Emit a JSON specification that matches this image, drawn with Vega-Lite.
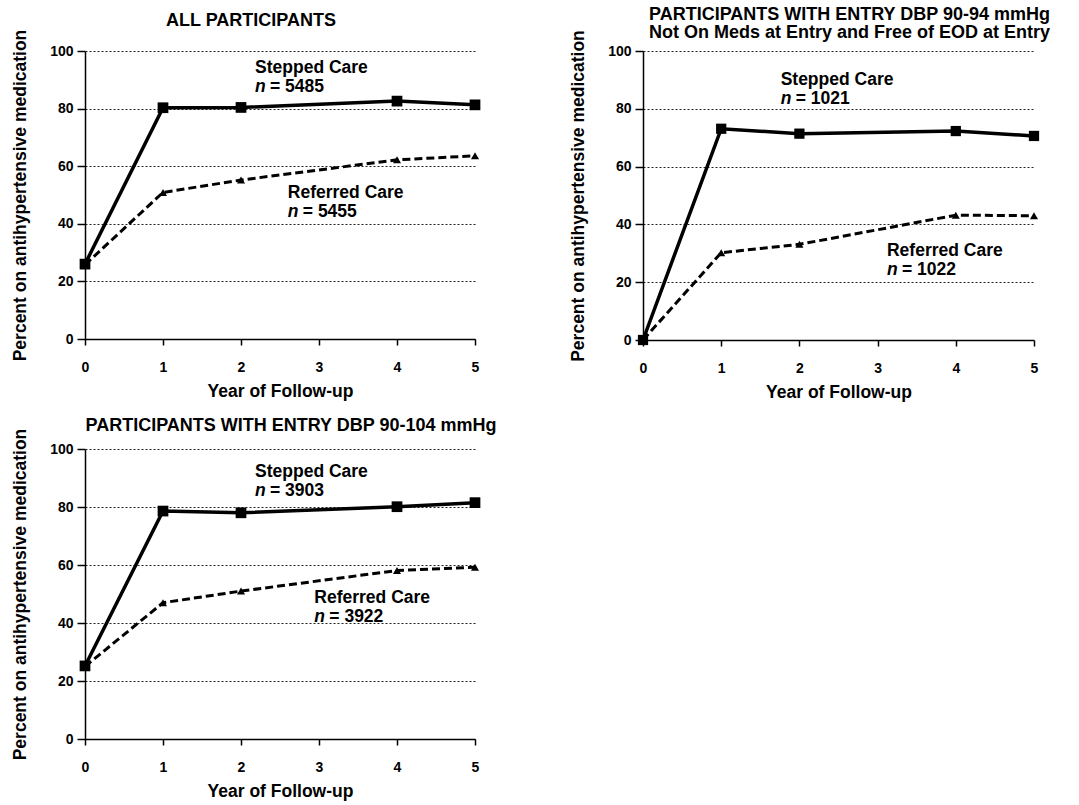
{
  "$schema": "https://vega.github.io/schema/vega-lite/v6.json",
  "background": "white",
  "padding": {"left": 11, "top": 5, "right": 5, "bottom": 5},
  "datasets": {
    "hdfp": [
      {"panel": "all", "group": "Stepped Care", "year": 0, "pct": 26.0},
      {"panel": "all", "group": "Stepped Care", "year": 1, "pct": 80.3},
      {"panel": "all", "group": "Stepped Care", "year": 2, "pct": 80.4},
      {"panel": "all", "group": "Stepped Care", "year": 4, "pct": 82.6},
      {"panel": "all", "group": "Stepped Care", "year": 5, "pct": 81.3},
      {"panel": "all", "group": "Referred Care", "year": 0, "pct": 25.8},
      {"panel": "all", "group": "Referred Care", "year": 1, "pct": 50.9},
      {"panel": "all", "group": "Referred Care", "year": 2, "pct": 55.2},
      {"panel": "all", "group": "Referred Care", "year": 4, "pct": 62.2},
      {"panel": "all", "group": "Referred Care", "year": 5, "pct": 63.6},
      {"panel": "dbp9094", "group": "Stepped Care", "year": 0, "pct": 0.0},
      {"panel": "dbp9094", "group": "Stepped Care", "year": 1, "pct": 73.1},
      {"panel": "dbp9094", "group": "Stepped Care", "year": 2, "pct": 71.4},
      {"panel": "dbp9094", "group": "Stepped Care", "year": 4, "pct": 72.3},
      {"panel": "dbp9094", "group": "Stepped Care", "year": 5, "pct": 70.6},
      {"panel": "dbp9094", "group": "Referred Care", "year": 0, "pct": 0.0},
      {"panel": "dbp9094", "group": "Referred Care", "year": 1, "pct": 30.2},
      {"panel": "dbp9094", "group": "Referred Care", "year": 2, "pct": 33.1},
      {"panel": "dbp9094", "group": "Referred Care", "year": 4, "pct": 43.2},
      {"panel": "dbp9094", "group": "Referred Care", "year": 5, "pct": 43.0},
      {"panel": "dbp90104", "group": "Stepped Care", "year": 0, "pct": 25.2},
      {"panel": "dbp90104", "group": "Stepped Care", "year": 1, "pct": 78.6},
      {"panel": "dbp90104", "group": "Stepped Care", "year": 2, "pct": 78.0},
      {"panel": "dbp90104", "group": "Stepped Care", "year": 4, "pct": 80.1},
      {"panel": "dbp90104", "group": "Stepped Care", "year": 5, "pct": 81.5},
      {"panel": "dbp90104", "group": "Referred Care", "year": 0, "pct": 25.0},
      {"panel": "dbp90104", "group": "Referred Care", "year": 1, "pct": 47.0},
      {"panel": "dbp90104", "group": "Referred Care", "year": 2, "pct": 51.0},
      {"panel": "dbp90104", "group": "Referred Care", "year": 4, "pct": 58.1},
      {"panel": "dbp90104", "group": "Referred Care", "year": 5, "pct": 59.2}
    ],
    "notes": [
      {"panel": "all", "group": "Stepped Care", "nText": "= 5485"},
      {"panel": "all", "group": "Referred Care", "nText": "= 5455"},
      {"panel": "dbp9094", "group": "Stepped Care", "nText": "= 1021"},
      {"panel": "dbp9094", "group": "Referred Care", "nText": "= 1022"},
      {"panel": "dbp90104", "group": "Stepped Care", "nText": "= 3903"},
      {"panel": "dbp90104", "group": "Referred Care", "nText": "= 3922"}
    ]
  },
  "columns": 2,
  "bounds": "flush",
  "spacing": {"column": 168, "row": 109},
  "concat": [
    {
      "title": {"text": "ALL PARTICIPANTS", "dx": -29, "offset": -1},
      "width": 390,
      "height": 288,
      "layer": [
        {"data": {"name": "hdfp"}, "transform": [{"filter": "datum.panel === 'all' && datum.group === 'Referred Care'"}],
         "mark": {"type": "line", "color": "black", "strokeWidth": 3, "strokeDash": [8, 4]},
         "encoding": {
           "x": {"field": "year", "type": "quantitative", "scale": {"domain": [0, 5], "nice": false}, "axis": {"title": "Year of Follow-up", "values": [0, 1, 2, 3, 4, 5], "format": "d", "labelFontSize": 14, "labelFontWeight": "bold"}},
           "y": {"field": "pct", "type": "quantitative", "scale": {"domain": [0, 100], "nice": false}, "axis": {"title": "Percent on antihypertensive medication", "values": [0, 20, 40, 60, 80, 100], "format": "d", "labelFontSize": 14, "labelFontWeight": "bold"}}
         }},
        {"data": {"name": "hdfp"}, "transform": [{"filter": "datum.panel === 'all' && datum.group === 'Referred Care'"}],
         "mark": {"type": "point", "shape": "triangle-up", "filled": true, "color": "black", "opacity": 1, "size": 65},
         "encoding": {"x": {"field": "year", "type": "quantitative"}, "y": {"field": "pct", "type": "quantitative"}}},
        {"data": {"name": "hdfp"}, "transform": [{"filter": "datum.panel === 'all' && datum.group === 'Stepped Care'"}],
         "mark": {"type": "line", "color": "black", "strokeWidth": 3.5},
         "encoding": {"x": {"field": "year", "type": "quantitative"}, "y": {"field": "pct", "type": "quantitative"}}},
        {"data": {"name": "hdfp"}, "transform": [{"filter": "datum.panel === 'all' && datum.group === 'Stepped Care'"}],
         "mark": {"type": "point", "shape": "square", "filled": true, "color": "black", "opacity": 1, "size": 115},
         "encoding": {"x": {"field": "year", "type": "quantitative"}, "y": {"field": "pct", "type": "quantitative"}}},
        {"data": {"name": "notes"}, "transform": [{"filter": "datum.panel === 'all' && datum.group === 'Stepped Care'"}],
         "mark": {"type": "text", "align": "left", "baseline": "alphabetic", "fontSize": 17.5, "fontWeight": "bold", "color": "black"},
         "encoding": {"x": {"datum": 2.18}, "y": {"datum": 92.3}, "text": {"field": "group"}}},
        {"data": {"name": "notes"}, "transform": [{"filter": "datum.panel === 'all' && datum.group === 'Stepped Care'"}],
         "mark": {"type": "text", "align": "left", "baseline": "alphabetic", "fontSize": 17.5, "fontWeight": "bold", "fontStyle": "italic", "color": "black", "text": "n", "dy": 19},
         "encoding": {"x": {"datum": 2.18}, "y": {"datum": 92.3}}},
        {"data": {"name": "notes"}, "transform": [{"filter": "datum.panel === 'all' && datum.group === 'Stepped Care'"}],
         "mark": {"type": "text", "align": "left", "baseline": "alphabetic", "fontSize": 17.5, "fontWeight": "bold", "color": "black", "dx": 15, "dy": 19},
         "encoding": {"x": {"datum": 2.18}, "y": {"datum": 92.3}, "text": {"field": "nText"}}},
        {"data": {"name": "notes"}, "transform": [{"filter": "datum.panel === 'all' && datum.group === 'Referred Care'"}],
         "mark": {"type": "text", "align": "left", "baseline": "alphabetic", "fontSize": 17.5, "fontWeight": "bold", "color": "black"},
         "encoding": {"x": {"datum": 2.6}, "y": {"datum": 48.8}, "text": {"field": "group"}}},
        {"data": {"name": "notes"}, "transform": [{"filter": "datum.panel === 'all' && datum.group === 'Referred Care'"}],
         "mark": {"type": "text", "align": "left", "baseline": "alphabetic", "fontSize": 17.5, "fontWeight": "bold", "fontStyle": "italic", "color": "black", "text": "n", "dy": 19},
         "encoding": {"x": {"datum": 2.6}, "y": {"datum": 48.8}}},
        {"data": {"name": "notes"}, "transform": [{"filter": "datum.panel === 'all' && datum.group === 'Referred Care'"}],
         "mark": {"type": "text", "align": "left", "baseline": "alphabetic", "fontSize": 17.5, "fontWeight": "bold", "color": "black", "dx": 15, "dy": 19},
         "encoding": {"x": {"datum": 2.6}, "y": {"datum": 48.8}, "text": {"field": "nText"}}}
      ]
    },
    {
      "title": {"text": ["PARTICIPANTS WITH ENTRY DBP 90-94 mmHg", "Not On Meds at Entry and Free of EOD at Entry"], "dx": 11, "offset": -12, "lineHeight": 18},
      "width": 391,
      "height": 289,
      "layer": [
        {"data": {"name": "hdfp"}, "transform": [{"filter": "datum.panel === 'dbp9094' && datum.group === 'Referred Care'"}],
         "mark": {"type": "line", "color": "black", "strokeWidth": 3, "strokeDash": [8, 4]},
         "encoding": {
           "x": {"field": "year", "type": "quantitative", "scale": {"domain": [0, 5], "nice": false}, "axis": {"title": "Year of Follow-up", "values": [0, 1, 2, 3, 4, 5], "format": "d", "labelFontSize": 14, "labelFontWeight": "bold"}},
           "y": {"field": "pct", "type": "quantitative", "scale": {"domain": [0, 100], "nice": false}, "axis": {"title": "Percent on antihypertensive medication", "values": [0, 20, 40, 60, 80, 100], "format": "d", "labelFontSize": 14, "labelFontWeight": "bold"}}
         }},
        {"data": {"name": "hdfp"}, "transform": [{"filter": "datum.panel === 'dbp9094' && datum.group === 'Referred Care'"}],
         "mark": {"type": "point", "shape": "triangle-up", "filled": true, "color": "black", "opacity": 1, "size": 65},
         "encoding": {"x": {"field": "year", "type": "quantitative"}, "y": {"field": "pct", "type": "quantitative"}}},
        {"data": {"name": "hdfp"}, "transform": [{"filter": "datum.panel === 'dbp9094' && datum.group === 'Stepped Care'"}],
         "mark": {"type": "line", "color": "black", "strokeWidth": 3.5},
         "encoding": {"x": {"field": "year", "type": "quantitative"}, "y": {"field": "pct", "type": "quantitative"}}},
        {"data": {"name": "hdfp"}, "transform": [{"filter": "datum.panel === 'dbp9094' && datum.group === 'Stepped Care'"}],
         "mark": {"type": "point", "shape": "square", "filled": true, "color": "black", "opacity": 1, "size": 105},
         "encoding": {"x": {"field": "year", "type": "quantitative"}, "y": {"field": "pct", "type": "quantitative"}}},
        {"data": {"name": "notes"}, "transform": [{"filter": "datum.panel === 'dbp9094' && datum.group === 'Stepped Care'"}],
         "mark": {"type": "text", "align": "left", "baseline": "alphabetic", "fontSize": 17.5, "fontWeight": "bold", "color": "black"},
         "encoding": {"x": {"datum": 1.76}, "y": {"datum": 88.2}, "text": {"field": "group"}}},
        {"data": {"name": "notes"}, "transform": [{"filter": "datum.panel === 'dbp9094' && datum.group === 'Stepped Care'"}],
         "mark": {"type": "text", "align": "left", "baseline": "alphabetic", "fontSize": 17.5, "fontWeight": "bold", "fontStyle": "italic", "color": "black", "text": "n", "dy": 19},
         "encoding": {"x": {"datum": 1.76}, "y": {"datum": 88.2}}},
        {"data": {"name": "notes"}, "transform": [{"filter": "datum.panel === 'dbp9094' && datum.group === 'Stepped Care'"}],
         "mark": {"type": "text", "align": "left", "baseline": "alphabetic", "fontSize": 17.5, "fontWeight": "bold", "color": "black", "dx": 15, "dy": 19},
         "encoding": {"x": {"datum": 1.76}, "y": {"datum": 88.2}, "text": {"field": "nText"}}},
        {"data": {"name": "notes"}, "transform": [{"filter": "datum.panel === 'dbp9094' && datum.group === 'Referred Care'"}],
         "mark": {"type": "text", "align": "left", "baseline": "alphabetic", "fontSize": 17.5, "fontWeight": "bold", "color": "black"},
         "encoding": {"x": {"datum": 3.12}, "y": {"datum": 29.1}, "text": {"field": "group"}}},
        {"data": {"name": "notes"}, "transform": [{"filter": "datum.panel === 'dbp9094' && datum.group === 'Referred Care'"}],
         "mark": {"type": "text", "align": "left", "baseline": "alphabetic", "fontSize": 17.5, "fontWeight": "bold", "fontStyle": "italic", "color": "black", "text": "n", "dy": 19},
         "encoding": {"x": {"datum": 3.12}, "y": {"datum": 29.1}}},
        {"data": {"name": "notes"}, "transform": [{"filter": "datum.panel === 'dbp9094' && datum.group === 'Referred Care'"}],
         "mark": {"type": "text", "align": "left", "baseline": "alphabetic", "fontSize": 17.5, "fontWeight": "bold", "color": "black", "dx": 15, "dy": 19},
         "encoding": {"x": {"datum": 3.12}, "y": {"datum": 29.1}, "text": {"field": "nText"}}}
      ]
    },
    {
      "title": {"text": "PARTICIPANTS WITH ENTRY DBP 90-104 mmHg", "dx": 11, "offset": -7},
      "width": 390,
      "height": 290,
      "layer": [
        {"data": {"name": "hdfp"}, "transform": [{"filter": "datum.panel === 'dbp90104' && datum.group === 'Referred Care'"}],
         "mark": {"type": "line", "color": "black", "strokeWidth": 3, "strokeDash": [8, 4]},
         "encoding": {
           "x": {"field": "year", "type": "quantitative", "scale": {"domain": [0, 5], "nice": false}, "axis": {"title": "Year of Follow-up", "values": [0, 1, 2, 3, 4, 5], "format": "d", "labelFontSize": 14, "labelFontWeight": "bold"}},
           "y": {"field": "pct", "type": "quantitative", "scale": {"domain": [0, 100], "nice": false}, "axis": {"title": "Percent on antihypertensive medication", "values": [0, 20, 40, 60, 80, 100], "format": "d", "labelFontSize": 14, "labelFontWeight": "bold"}}
         }},
        {"data": {"name": "hdfp"}, "transform": [{"filter": "datum.panel === 'dbp90104' && datum.group === 'Referred Care'"}],
         "mark": {"type": "point", "shape": "triangle-up", "filled": true, "color": "black", "opacity": 1, "size": 65},
         "encoding": {"x": {"field": "year", "type": "quantitative"}, "y": {"field": "pct", "type": "quantitative"}}},
        {"data": {"name": "hdfp"}, "transform": [{"filter": "datum.panel === 'dbp90104' && datum.group === 'Stepped Care'"}],
         "mark": {"type": "line", "color": "black", "strokeWidth": 3.5},
         "encoding": {"x": {"field": "year", "type": "quantitative"}, "y": {"field": "pct", "type": "quantitative"}}},
        {"data": {"name": "hdfp"}, "transform": [{"filter": "datum.panel === 'dbp90104' && datum.group === 'Stepped Care'"}],
         "mark": {"type": "point", "shape": "square", "filled": true, "color": "black", "opacity": 1, "size": 115},
         "encoding": {"x": {"field": "year", "type": "quantitative"}, "y": {"field": "pct", "type": "quantitative"}}},
        {"data": {"name": "notes"}, "transform": [{"filter": "datum.panel === 'dbp90104' && datum.group === 'Stepped Care'"}],
         "mark": {"type": "text", "align": "left", "baseline": "alphabetic", "fontSize": 17.5, "fontWeight": "bold", "color": "black"},
         "encoding": {"x": {"datum": 2.18}, "y": {"datum": 90.3}, "text": {"field": "group"}}},
        {"data": {"name": "notes"}, "transform": [{"filter": "datum.panel === 'dbp90104' && datum.group === 'Stepped Care'"}],
         "mark": {"type": "text", "align": "left", "baseline": "alphabetic", "fontSize": 17.5, "fontWeight": "bold", "fontStyle": "italic", "color": "black", "text": "n", "dy": 19},
         "encoding": {"x": {"datum": 2.18}, "y": {"datum": 90.3}}},
        {"data": {"name": "notes"}, "transform": [{"filter": "datum.panel === 'dbp90104' && datum.group === 'Stepped Care'"}],
         "mark": {"type": "text", "align": "left", "baseline": "alphabetic", "fontSize": 17.5, "fontWeight": "bold", "color": "black", "dx": 15, "dy": 19},
         "encoding": {"x": {"datum": 2.18}, "y": {"datum": 90.3}, "text": {"field": "nText"}}},
        {"data": {"name": "notes"}, "transform": [{"filter": "datum.panel === 'dbp90104' && datum.group === 'Referred Care'"}],
         "mark": {"type": "text", "align": "left", "baseline": "alphabetic", "fontSize": 17.5, "fontWeight": "bold", "color": "black"},
         "encoding": {"x": {"datum": 2.94}, "y": {"datum": 46.9}, "text": {"field": "group"}}},
        {"data": {"name": "notes"}, "transform": [{"filter": "datum.panel === 'dbp90104' && datum.group === 'Referred Care'"}],
         "mark": {"type": "text", "align": "left", "baseline": "alphabetic", "fontSize": 17.5, "fontWeight": "bold", "fontStyle": "italic", "color": "black", "text": "n", "dy": 19},
         "encoding": {"x": {"datum": 2.94}, "y": {"datum": 46.9}}},
        {"data": {"name": "notes"}, "transform": [{"filter": "datum.panel === 'dbp90104' && datum.group === 'Referred Care'"}],
         "mark": {"type": "text", "align": "left", "baseline": "alphabetic", "fontSize": 17.5, "fontWeight": "bold", "color": "black", "dx": 15, "dy": 19},
         "encoding": {"x": {"datum": 2.94}, "y": {"datum": 46.9}, "text": {"field": "nText"}}}
      ]
    }
  ],
  "config": {
    "font": "Liberation Sans",
    "view": {"stroke": null},
    "title": {"font": "Liberation Sans", "fontSize": 18, "fontWeight": "bold", "color": "black", "anchor": "middle"},
    "axis": {
      "domainColor": "black",
      "domainWidth": 1.5,
      "tickColor": "black",
      "tickWidth": 1.5,
      "labelColor": "black",
      "labelFont": "Liberation Sans",
      "labelFontSize": 14,
      "labelFontWeight": "bold",
      "titleColor": "black",
      "titleFont": "Liberation Sans",
      "titleFontSize": 17.5,
      "titleFontWeight": "bold"
    },
    "axisY": {
      "grid": true,
      "gridColor": "#222222",
      "gridDash": [2, 2],
      "gridWidth": 1,
      "tickSize": 8,
      "labelPadding": 4,
      "titlePadding": 20
    },
    "axisX": {
      "grid": false,
      "tickSize": 6,
      "labelPadding": 15,
      "titlePadding": 8,
      "labelFlush": false
    }
  }
}
